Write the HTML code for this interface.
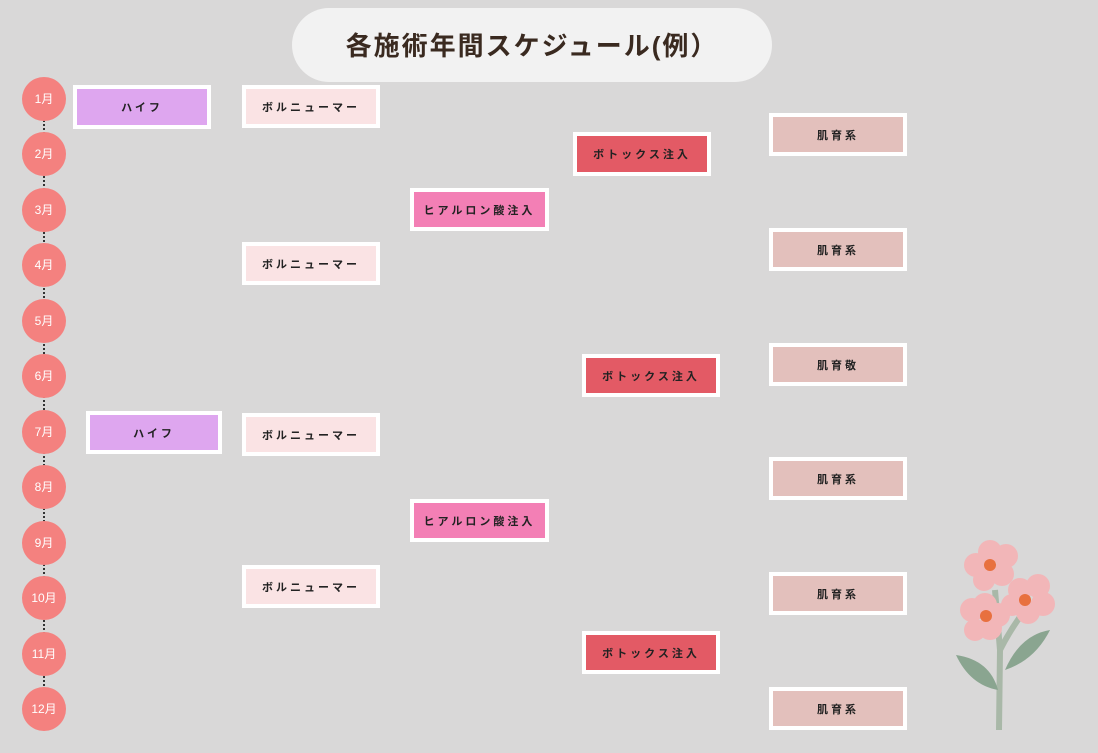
<!DOCTYPE html>
<html><head><meta charset="utf-8"><style>
body{margin:0;width:1098px;height:753px;background:#d9d8d8;position:relative;overflow:hidden;font-family:"Liberation Sans","Noto Sans CJK JP",sans-serif}
.t{position:absolute;left:292px;top:8px;width:480px;height:74px;border-radius:37px;background:#f2f2f2;text-align:center;line-height:76px;font-size:26px;font-weight:bold;color:#3a2a20;letter-spacing:2px}
.c{position:absolute;left:22px;width:44px;height:44px;border-radius:50%;background:#f4817f;color:#fff;font-size:12px;text-align:center;line-height:44px}
.b{position:absolute;box-sizing:border-box;border:4px solid #fff;text-align:center;font-size:11px;font-weight:bold;color:#222;letter-spacing:3px;display:flex;align-items:center;justify-content:center}
.h{background:#dea6ef}.v{background:#fae3e4}.y{background:#f37fb5}.x{background:#e35a65}.s{background:#e3c0bc}
.line{position:absolute;left:43px;top:100px;height:610px;border-left:2px dotted #333}
</style></head><body>
<div class="t">各施術年間スケジュール(例）</div>
<div class="line"></div>
<div class="c" style="top:77px">1月</div>
<div class="c" style="top:132px">2月</div>
<div class="c" style="top:188px">3月</div>
<div class="c" style="top:243px">4月</div>
<div class="c" style="top:299px">5月</div>
<div class="c" style="top:354px">6月</div>
<div class="c" style="top:410px">7月</div>
<div class="c" style="top:465px">8月</div>
<div class="c" style="top:521px">9月</div>
<div class="c" style="top:576px">10月</div>
<div class="c" style="top:632px">11月</div>
<div class="c" style="top:687px">12月</div>

<div class="b h" style="left:73px;top:85px;width:138px;height:44px">ハイフ</div>
<div class="b h" style="left:86px;top:411px;width:136px;height:43px">ハイフ</div>

<div class="b v" style="left:242px;top:85px;width:138px;height:43px">ボルニューマー</div>
<div class="b v" style="left:242px;top:242px;width:138px;height:43px">ボルニューマー</div>
<div class="b v" style="left:242px;top:413px;width:138px;height:43px">ボルニューマー</div>
<div class="b v" style="left:242px;top:565px;width:138px;height:43px">ボルニューマー</div>

<div class="b y" style="left:410px;top:188px;width:139px;height:43px">ヒアルロン酸注入</div>
<div class="b y" style="left:410px;top:499px;width:139px;height:43px">ヒアルロン酸注入</div>

<div class="b x" style="left:573px;top:132px;width:138px;height:44px">ボトックス注入</div>
<div class="b x" style="left:582px;top:354px;width:138px;height:43px">ボトックス注入</div>
<div class="b x" style="left:582px;top:631px;width:138px;height:43px">ボトックス注入</div>

<div class="b s" style="left:769px;top:113px;width:138px;height:43px">肌育系</div>
<div class="b s" style="left:769px;top:228px;width:138px;height:43px">肌育系</div>
<div class="b s" style="left:769px;top:343px;width:138px;height:43px">肌育敬</div>
<div class="b s" style="left:769px;top:457px;width:138px;height:43px">肌育系</div>
<div class="b s" style="left:769px;top:572px;width:138px;height:43px">肌育系</div>
<div class="b s" style="left:769px;top:687px;width:138px;height:43px">肌育系</div>

<svg style="position:absolute;left:920px;top:520px" width="178" height="233">
<path d="M75 70 L80 130 L79 210" stroke="#a9b8a8" stroke-width="6" fill="none"/>
<path d="M80 130 Q90 110 105 90" stroke="#a9b8a8" stroke-width="6" fill="none"/>
<path d="M36 135 Q70 140 78 170 Q50 165 36 135Z" fill="#8aa590"/>
<path d="M130 110 Q100 115 85 150 Q115 140 130 110Z" fill="#8aa590"/>
<g fill="#f2b6b8">
<circle cx="70" cy="32" r="12"/><circle cx="86" cy="36" r="12"/><circle cx="56" cy="45" r="12"/><circle cx="82" cy="54" r="12"/><circle cx="64" cy="60" r="11"/>
<circle cx="65" cy="85" r="12"/><circle cx="78" cy="95" r="12"/><circle cx="52" cy="90" r="12"/><circle cx="70" cy="108" r="12"/><circle cx="55" cy="110" r="11"/>
<circle cx="100" cy="70" r="12"/><circle cx="118" cy="66" r="12"/><circle cx="123" cy="84" r="12"/><circle cx="108" cy="92" r="12"/><circle cx="92" cy="85" r="11"/>
</g>
<g fill="#e8703f"><circle cx="70" cy="45" r="6"/><circle cx="66" cy="96" r="6"/><circle cx="105" cy="80" r="6"/></g>
</svg>
</body></html>
